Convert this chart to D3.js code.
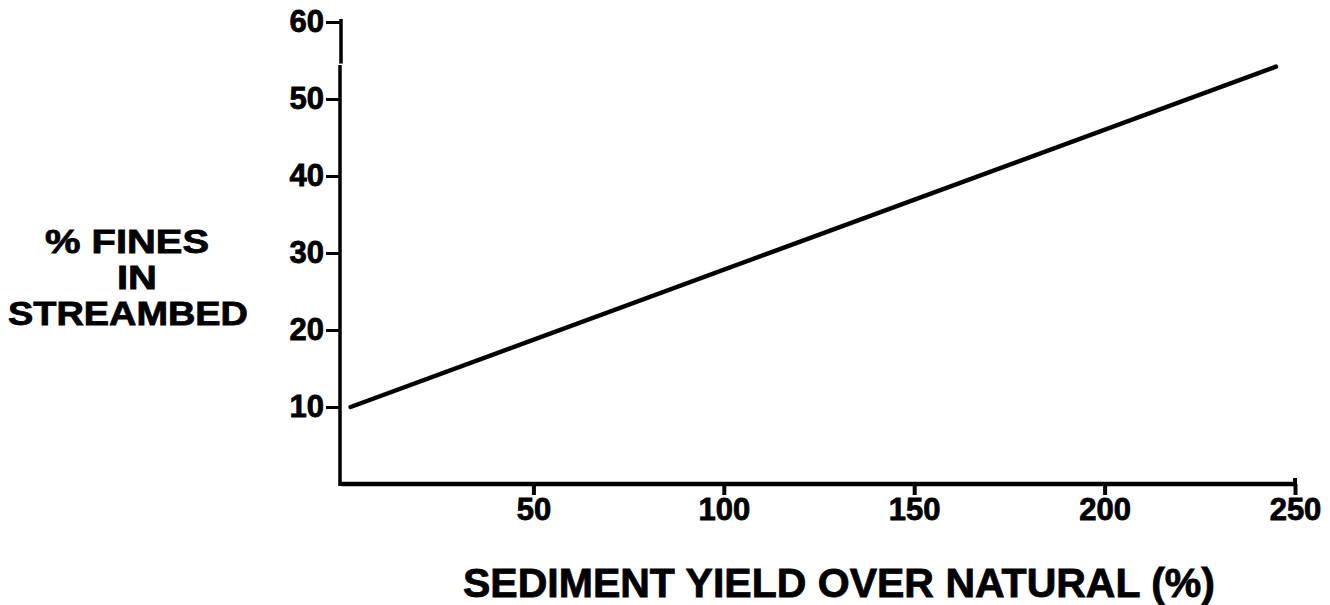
<!DOCTYPE html>
<html>
<head>
<meta charset="utf-8">
<script src="https://cdn.jsdelivr.net/npm/d3@7"></script>
<style>
  html, body { margin: 0; padding: 0; background: #fff; }
  svg { display: block; }
  text { font-family: "Liberation Sans", Arial, Helvetica, sans-serif; font-weight: bold; fill: #000; stroke: #000; stroke-width: 0.8px; }
</style>
</head>
<body>
<svg id="chart" width="1330" height="605"></svg>
<script>
// Data
const xTicks = [50, 100, 150, 200, 250];
const yTicks = [10, 20, 30, 40, 50, 60];
const lineX = [2, 245];
const lineY = [10, 54.2];
const yTitleLines = ["% FINES", "IN", "STREAMBED"];
const xTitle = "SEDIMENT YIELD OVER NATURAL (%)";

const svg = d3.select("#chart");
const x = d3.scaleLinear().domain([0, 250]).range([343, 1295]);
const y = d3.scaleLinear().domain([0, 60]).range([484, 22]);

// X axis
const xAxis = d3.axisBottom(x).tickValues(xTicks).tickSize(11).tickPadding(3).tickSizeOuter(0);
const gx = svg.append("g").attr("transform", `translate(0,${y(0)})`).call(xAxis);
gx.select(".domain").remove();
gx.selectAll(".tick line").attr("stroke", "#000").attr("stroke-width", 4);
gx.selectAll(".tick text").style("font-size", "31px").attr("fill", "#000");
svg.append("line")
  .attr("x1", x(0) - 2).attr("x2", x(250) + 2)
  .attr("y1", y(0)).attr("y2", y(0))
  .attr("stroke", "#000").attr("stroke-width", 4.5);
svg.append("line")
  .attr("x1", x(250)).attr("x2", x(250))
  .attr("y1", y(0) - 6).attr("y2", y(0))
  .attr("stroke", "#000").attr("stroke-width", 4);

// Y axis
const yAxis = d3.axisLeft(y).tickValues(yTicks).tickSize(15).tickPadding(2).tickSizeOuter(0);
const gy = svg.append("g").attr("transform", `translate(${x(0) - 2},0)`).call(yAxis);
gy.select(".domain").remove();
gy.selectAll(".tick line").attr("stroke", "#000").attr("stroke-width", 3);
gy.selectAll(".tick text").style("font-size", "31px").attr("fill", "#000");
svg.append("line")
  .attr("x1", x(0) - 2).attr("x2", x(0) - 2)
  .attr("y1", y(60) - 3).attr("y2", y(54.6))
  .attr("stroke", "#000").attr("stroke-width", 3.5);
svg.append("line")
  .attr("x1", x(0) - 3).attr("x2", x(0) - 3)
  .attr("y1", y(54.4)).attr("y2", y(0) + 2)
  .attr("stroke", "#000").attr("stroke-width", 3.5);

// Data line
svg.append("path")
  .datum(lineX.map((d, i) => [d, lineY[i]]))
  .attr("fill", "none").attr("stroke", "#000").attr("stroke-width", 4.5)
  .attr("stroke-linecap", "round")
  .attr("d", d3.line().x(d => x(d[0])).y(d => y(d[1])));

// Y title (three separate lines, tight leading as in the reference)
const yTitleX = [127, 137, 128];
const yTitleW = [164, 40, 240];
yTitleLines.forEach((t, i) => {
  svg.append("text")
    .attr("x", yTitleX[i] - yTitleW[i] / 2).attr("y", 253 + i * 36)
    .attr("textLength", yTitleW[i]).attr("lengthAdjust", "spacingAndGlyphs")
    .style("font-size", "33px")
    .text(t);
});

// X title
svg.append("text")
  .attr("x", 463).attr("y", 597)
  .attr("textLength", 752).attr("lengthAdjust", "spacingAndGlyphs")
  .style("font-size", "40px")
  .text(xTitle);
</script>
</body>
</html>
